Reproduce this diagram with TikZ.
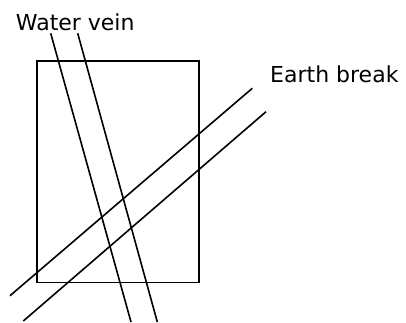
\documentclass[tikz,border=0pt]{standalone}
\usepackage{fontspec}
\setmainfont{DejaVu Sans}
\begin{document}
\begin{tikzpicture}[x=1pt, y=-1pt,
    line/.style={line width=1.6pt},
    label/.style={inner sep=0pt, anchor=base west, font=\fontsize{22}{24}\selectfont}]
    \useasboundingbox (0,0) rectangle (406,322);

    % field
    \draw[line] (36.7,61) rectangle (198.7,282.3);

    % water vein
    \coordinate (w1a) at (50.7,33.3);
    \coordinate (w1b) at (131,322);
    \coordinate (w2a) at (77.7,33.3);
    \coordinate (w2b) at (157.3,322);
    \draw[line] (w1a) -- (w1b);
    \draw[line] (w2a) -- (w2b);

    % earth break
    \coordinate (e1a) at (252.3,88.3);
    \coordinate (e1b) at (10,295.7);
    \coordinate (e2a) at (266,111.7);
    \coordinate (e2b) at (23.3,321);
    \draw[line] (e1a) -- (e1b);
    \draw[line] (e2a) -- (e2b);

    \node[label] (vein) at (15.7,30) {Water vein};
    \node[label] (break) at (270,82.7) {Earth break};
\end{tikzpicture}
\end{document}
